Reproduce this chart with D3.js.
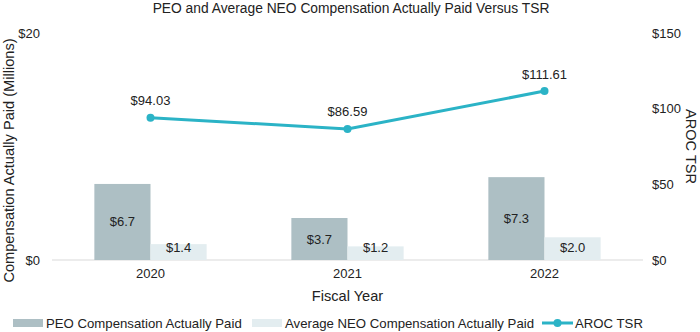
<!DOCTYPE html>
<html>
<head>
<meta charset="utf-8">
<script src="https://cdn.jsdelivr.net/npm/d3@7"></script>
<style>
  body { margin: 0; background: #fff; }
  text { font-family: "Liberation Sans", Arial, sans-serif; fill: #222; }
</style>
</head>
<body>
<div id="chart"></div>
<script>
// chart data
var years = ["2020", "2021", "2022"];
var peoPaid = [6.7, 3.7, 7.3];
var neoPaid = [1.4, 1.2, 2.0];
var tsr = [94.03, 86.59, 111.61];
var leftTicks = [0, 20];
var rightTicks = [0, 50, 100, 150];

var svgWidth = 700;
var svgHeight = 332;

var margin = { top: 33, right: 57, bottom: 72, left: 52 };
var width = svgWidth - margin.left - margin.right;
var height = svgHeight - margin.top - margin.bottom;

var svg = d3.select("#chart")
  .append("svg")
  .attr("width", svgWidth)
  .attr("height", svgHeight);

var chartGroup = svg.append("g")
  .attr("transform", `translate(${margin.left}, ${margin.top})`);

// scales
var x0 = d3.scaleBand().domain(years).range([0, width]).paddingInner(0.43).paddingOuter(0.215);
var x1 = d3.scaleBand().domain(["peo", "neo"]).range([0, x0.bandwidth()]);
var yLeft = d3.scaleLinear().domain([0, 20]).range([height, 0]);
var yRight = d3.scaleLinear().domain([0, 150]).range([height, 0]);

var peoColor = "#adbfc4";
var neoColor = "#e3edf0";
var lineColor = "#2bb3c6";

// baseline
chartGroup.append("line")
  .attr("x1", 0).attr("x2", width)
  .attr("y1", height).attr("y2", height)
  .attr("stroke", "#d9d9d9").attr("stroke-width", 1);

// bars
var groups = chartGroup.selectAll(".year")
  .data(years)
  .enter()
  .append("g")
  .attr("transform", d => `translate(${x0(d)}, 0)`);

groups.each(function(d, i) {
  var g = d3.select(this);
  var vals = [{ k: "peo", v: peoPaid[i], c: peoColor }, { k: "neo", v: neoPaid[i], c: neoColor }];
  vals.forEach(function(b) {
    g.append("rect")
      .attr("x", x1(b.k))
      .attr("y", yLeft(b.v))
      .attr("width", x1.bandwidth())
      .attr("height", height - yLeft(b.v))
      .attr("fill", b.c);
    var mid = (yLeft(b.v) + height) / 2;
    g.append("text")
      .attr("x", x1(b.k) + x1.bandwidth() / 2)
      .attr("y", Math.min(mid, height - 13))
      .attr("text-anchor", "middle")
      .attr("dominant-baseline", "central")
      .style("font-size", "13px")
      .text("$" + b.v.toFixed(1));
  });
});

// TSR line
var line = d3.line()
  .x((d, i) => x0(years[i]) + x0.bandwidth() / 2)
  .y(d => yRight(d));

chartGroup.append("path")
  .datum(tsr)
  .attr("d", line)
  .attr("fill", "none")
  .attr("stroke", lineColor)
  .attr("stroke-width", 3);

chartGroup.selectAll(".pt")
  .data(tsr)
  .enter()
  .append("circle")
  .attr("cx", (d, i) => x0(years[i]) + x0.bandwidth() / 2)
  .attr("cy", d => yRight(d))
  .attr("r", 4)
  .attr("fill", lineColor);

chartGroup.selectAll(".ptlabel")
  .data(tsr)
  .enter()
  .append("text")
  .attr("x", (d, i) => x0(years[i]) + x0.bandwidth() / 2)
  .attr("y", d => yRight(d) - 17)
  .attr("text-anchor", "middle")
  .attr("dominant-baseline", "central")
  .style("font-size", "13px")
  .text(d => "$" + d.toFixed(2));

// left axis
var leftAxis = d3.axisLeft(yLeft).tickValues(leftTicks).tickSize(0).tickPadding(12).tickFormat(d => "$" + d);
chartGroup.append("g").call(leftAxis)
  .call(g => g.select(".domain").remove())
  .selectAll("text").style("font-size", "13px").attr("fill", "#222");

// right axis
var rightAxis = d3.axisRight(yRight).tickValues(rightTicks).tickSize(0).tickPadding(9).tickFormat(d => "$" + d);
chartGroup.append("g")
  .attr("transform", `translate(${width}, 0)`)
  .call(rightAxis)
  .call(g => g.select(".domain").remove())
  .selectAll("text").style("font-size", "13px").attr("fill", "#222");

// bottom axis
var bottomAxis = d3.axisBottom(x0).tickSize(0).tickPadding(9);
chartGroup.append("g")
  .attr("transform", `translate(0, ${height})`)
  .call(bottomAxis)
  .call(g => g.select(".domain").remove())
  .selectAll("text").style("font-size", "13px").attr("fill", "#222");

// titles
svg.append("text")
  .attr("x", 351).attr("y", 8)
  .attr("text-anchor", "middle")
  .attr("dominant-baseline", "central")
  .style("font-size", "13.8px")
  .text("PEO and Average NEO Compensation Actually Paid Versus TSR");

svg.append("text")
  .attr("transform", `translate(9, ${margin.top + height / 2 + 14}) rotate(-90)`)
  .attr("text-anchor", "middle")
  .attr("dominant-baseline", "central")
  .style("font-size", "14.6px")
  .text("Compensation Actually Paid (Millions)");

svg.append("text")
  .attr("transform", `translate(691, ${margin.top + height / 2}) rotate(90)`)
  .attr("text-anchor", "middle")
  .attr("dominant-baseline", "central")
  .style("font-size", "14.6px")
  .text("AROC TSR");

svg.append("text")
  .attr("x", margin.left + width / 2).attr("y", 296)
  .attr("text-anchor", "middle")
  .attr("dominant-baseline", "central")
  .style("font-size", "14.6px")
  .text("Fiscal Year");

// legend
var legend = svg.append("g").attr("transform", "translate(0, 323)");
var legendItems = [
  { label: "PEO Compensation Actually Paid", color: peoColor, type: "bar", x: 13 },
  { label: "Average NEO Compensation Actually Paid", color: neoColor, type: "bar", x: 252 },
  { label: "AROC TSR", color: lineColor, type: "line", x: 542 }
];
legendItems.forEach(function(it) {
  if (it.type === "bar") {
    legend.append("rect").attr("x", it.x).attr("y", -4).attr("width", 30).attr("height", 8).attr("fill", it.color);
  } else {
    legend.append("line").attr("x1", it.x).attr("x2", it.x + 31).attr("y1", 0).attr("y2", 0)
      .attr("stroke", it.color).attr("stroke-width", 3);
    legend.append("circle").attr("cx", it.x + 15.5).attr("cy", 0).attr("r", 4).attr("fill", it.color);
  }
  legend.append("text")
    .attr("x", it.x + 33).attr("y", 0)
    .attr("dominant-baseline", "central")
    .style("font-size", "13.2px")
    .text(it.label);
});
</script>
</body>
</html>
